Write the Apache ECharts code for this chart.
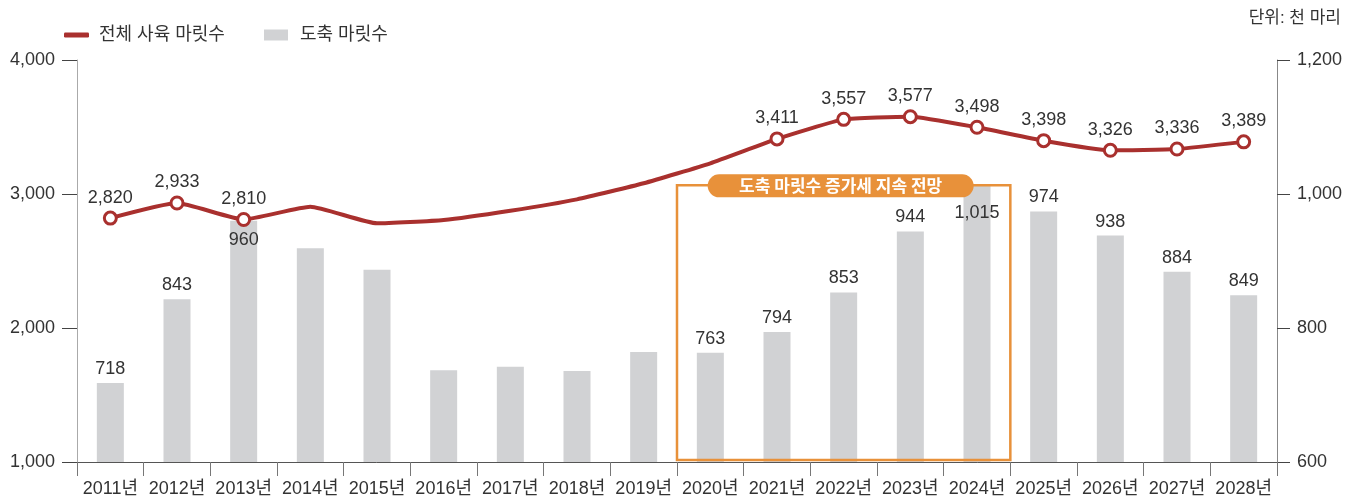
<!DOCTYPE html>
<html><head><meta charset="utf-8">
<script src="https://cdn.jsdelivr.net/npm/echarts@6/dist/echarts.min.js"></script>
<style>html,body{margin:0;padding:0;background:#fff}#c{width:1362px;height:503px}</style>
</head><body><div id="c"></div>
<script>
const categories = ['2011년','2012년','2013년','2014년','2015년','2016년','2017년','2018년','2019년','2020년','2021년','2022년','2023년','2024년','2025년','2026년','2027년','2028년'];
const totalHeads = [2820,2933,2810,2905,2781,2806,2875,2960,3080,3229,3411,3557,3577,3498,3398,3326,3336,3389];
const slaughterHeads = [718,843,960,919,887,737,742,736,764,763,794,853,944,1015,974,938,884,849];
const lineUnlabeled = ['2014년','2015년','2016년','2017년','2018년','2019년','2020년'];
const barUnlabeled = ['2014년','2015년','2016년','2017년','2018년','2019년'];
const barInsideLabel = {'2013년': 10, '2024년': 20};
const forecastFrom = '2020년', forecastTo = '2024년', forecastTop = 1013;
const forecastText = '도축 마릿수 증가세 지속 전망';
const unitText = '단위: 천 마리';
const seriesNames = ['전체 사육 마릿수','도축 마릿수'];

const FONT = "'Liberation Sans','Noto Sans CJK KR',sans-serif";
const RED = '#A9302E', GRAY = '#D1D2D4', ORANGE = '#E8913A', TXT = '#333';
const fmt = v => v.toLocaleString('en-US');

const chart = echarts.init(document.getElementById('c'));
const lineData = totalHeads.map((v,i) => {
  const hide = lineUnlabeled.includes(categories[i]);
  return {value: v, symbol: hide ? 'none' : 'circle', label: {show: !hide}};
});
const barData = slaughterHeads.map((v,i) => {
  const c = categories[i];
  const hide = barUnlabeled.includes(c);
  const inside = c in barInsideLabel;
  return {value: v, label: {show: !hide, position: inside ? 'insideTop' : 'top', distance: inside ? barInsideLabel[c] : 5}};
});

chart.setOption({
  animation: false,
  textStyle: {fontFamily: FONT},
  title: {text: unitText, right: 16, top: 5, textStyle: {fontSize: 17, fontWeight: 'normal', color: TXT, fontFamily: FONT}},
  legend: [
    {data: [{name: seriesNames[0], icon: 'roundRect', itemStyle: {color: RED, borderWidth: 0}}], left: 59, top: 21, itemWidth: 25, itemHeight: 5, itemGap: 10,
     textStyle: {fontSize: 18, color: TXT, fontFamily: FONT, padding: [0,0,0,5]}},
    {data: [{name: seriesNames[1], icon: 'rect'}], left: 259, top: 21, itemWidth: 24, itemHeight: 11,
     textStyle: {fontSize: 18, color: TXT, fontFamily: FONT, padding: [0,0,0,7]}}
  ],
  grid: {left: 77, right: 85, top: 60, bottom: 41, containLabel: false},
  xAxis: {
    type: 'category', data: categories, boundaryGap: true,
    axisLine: {lineStyle: {color: '#555', width: 1}},
    axisTick: {show: true, interval: 0, length: 14, lineStyle: {color: '#777'}},
    axisLabel: {interval: 0, fontSize: 18, color: TXT, margin: 18, fontFamily: FONT}
  },
  yAxis: [
    {type: 'value', min: 1000, max: 4000, interval: 1000,
     axisLine: {show: true, lineStyle: {color: '#aaa'}},
     axisTick: {show: true, length: 15, lineStyle: {color: '#444'}},
     splitLine: {show: false},
     axisLabel: {fontSize: 18, color: TXT, margin: 22, formatter: fmt, fontFamily: FONT}},
    {type: 'value', min: 600, max: 1200, interval: 200, position: 'right',
     axisLine: {show: true, lineStyle: {color: '#888'}},
     axisTick: {show: true, length: 13, lineStyle: {color: '#444'}},
     splitLine: {show: false},
     axisLabel: {fontSize: 18, color: TXT, margin: 20, formatter: fmt, fontFamily: FONT}}
  ],
  series: [
    {name: seriesNames[1], type: 'bar', yAxisIndex: 1, data: barData, barWidth: 27, z: 1,
     itemStyle: {color: GRAY},
     label: {show: true, fontSize: 18, color: TXT, fontFamily: FONT, formatter: p => fmt(p.value)}},
    {name: seriesNames[0], type: 'line', yAxisIndex: 0, data: lineData, smooth: 0.15, z: 5,
     symbolSize: 12, showAllSymbol: true,
     lineStyle: {color: RED, width: 4},
     itemStyle: {color: '#fff', borderColor: RED, borderWidth: 3},
     label: {show: true, position: 'top', distance: 4, fontSize: 18, color: TXT, fontFamily: FONT, formatter: p => fmt(p.value)}}
  ]
});

// forecast box from axis scales
const band = chart.convertToPixel({xAxisIndex: 0}, categories[1]) - chart.convertToPixel({xAxisIndex: 0}, categories[0]);
const x0 = chart.convertToPixel({xAxisIndex: 0}, forecastFrom) - band / 2;
const x1 = chart.convertToPixel({xAxisIndex: 0}, forecastTo) + band / 2;
const yTop = chart.convertToPixel({yAxisIndex: 1}, forecastTop);
const yBot = chart.convertToPixel({yAxisIndex: 1}, 600) - 2;
const cx = (x0 + x1) / 2 - 3;
chart.setOption({
  graphic: [
    {type: 'rect', shape: {x: x0, y: yTop, width: x1 - x0, height: yBot - yTop}, z: 10,
     style: {fill: 'none', stroke: ORANGE, lineWidth: 2.5}},
    {type: 'rect', shape: {x: cx - 133, y: yTop - 11, width: 266, height: 23, r: 11.5}, z: 11,
     style: {fill: ORANGE}},
    {type: 'text', x: cx, y: yTop + 0.5, z: 12,
     style: {text: forecastText, fill: '#fff', font: "bold 17px 'Noto Sans CJK KR',sans-serif", align: 'center', verticalAlign: 'middle'}}
  ]
});
</script>
</body></html>
